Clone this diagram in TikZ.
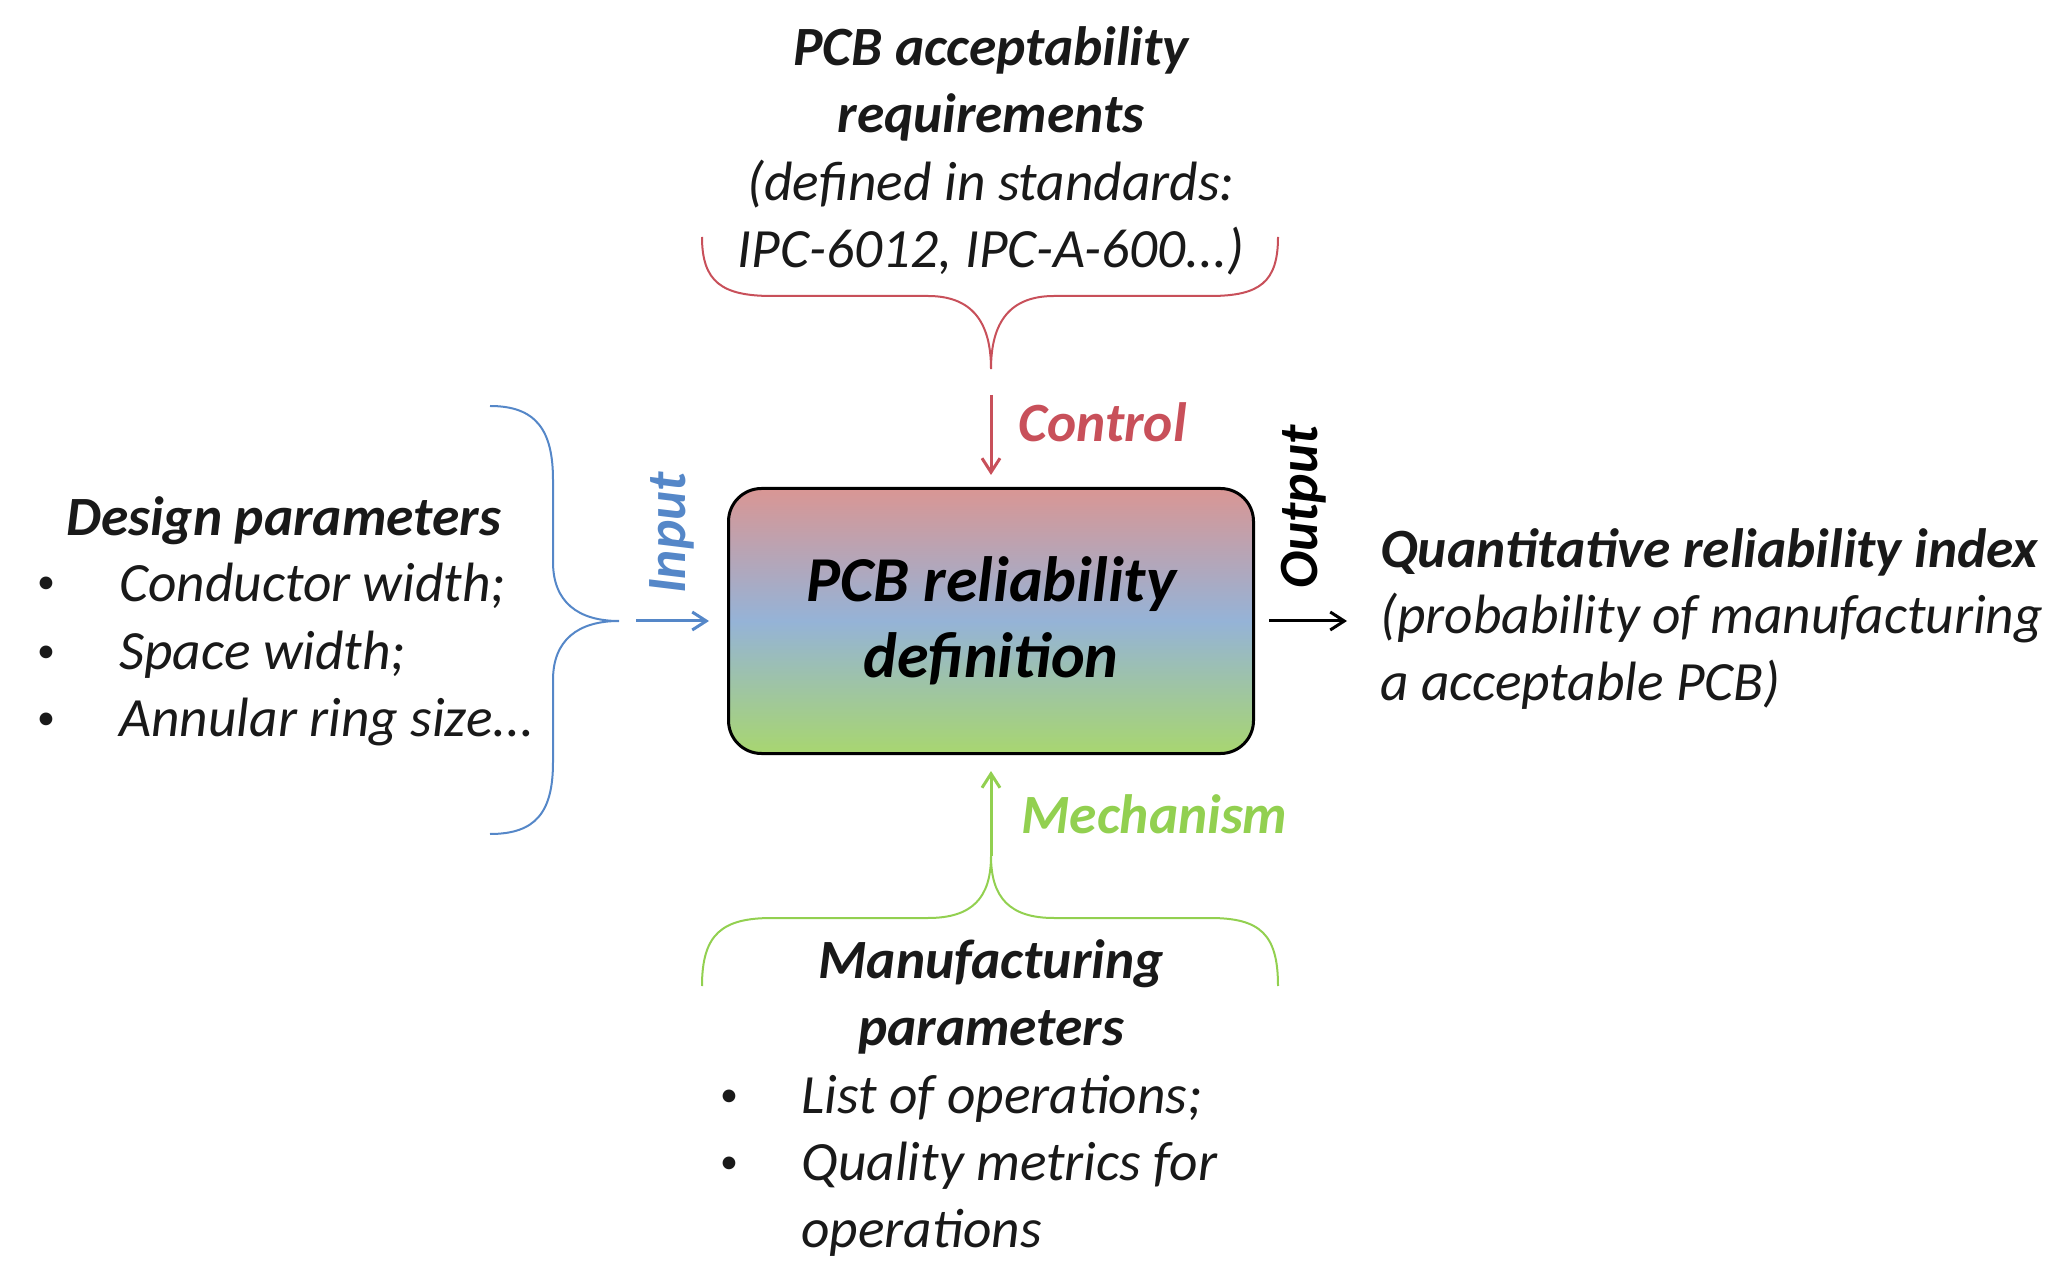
\documentclass[tikz,border=0pt]{standalone}
\usepackage{fontspec}
\setmainfont{Carlito}
\usetikzlibrary{arrows.meta}
\definecolor{cred}{RGB}{200,80,90}
\definecolor{cblue}{RGB}{85,135,200}
\definecolor{cgreen}{RGB}{146,208,80}
\definecolor{tcol}{RGB}{25,25,25}
\definecolor{boxtop}{RGB}{217,150,148}
\definecolor{boxmid}{RGB}{149,179,215}
\definecolor{boxbot}{RGB}{168,214,112}
\tikzset{
  txt/.style={font=\fontsize{27.7}{33.5}\selectfont\itshape, text=tcol, inner sep=0pt},
  ttl/.style={font=\fontsize{27.7}{33.5}\selectfont\bfseries\itshape, text=tcol, inner sep=0pt},
  bul/.style={font=\fontsize{18}{20}\selectfont, text=tcol, inner sep=0pt},
  brace/.style={line width=1pt},
  arr/.style={line width=1.5pt, -{Straight Barb[length=7pt,width=9pt,line width=1.5pt]}},
}
\begin{document}
\begin{tikzpicture}[x=0.5pt,y=-0.5pt]
\useasboundingbox (0,0) rectangle (2066,1277);
% central box
\node[draw=black, line width=1.5pt, rounded corners=16.5pt,
      minimum width=262.5pt, minimum height=132.5pt,
      top color=boxtop, bottom color=boxbot, middle color=boxmid,
      align=center, text=black,
      font=\fontsize{32}{38}\selectfont\bfseries\itshape] (box) at (991,621)
      {PCB reliability\\definition};
% top block
\node[ttl, align=center] (toptitle) at (991,84) {PCB acceptability\\requirements};
\node[txt, align=center] (topsub) at (991,218) {(defined in standards:\\IPC-6012, IPC-A-600...)};
\draw[brace, cred] (702,237) .. controls (702,282) and (722,296) .. (772,296)
   -- (928,296) .. controls (972,296) and (991,322) .. (991,369) coordinate (toptip)
   .. controls (991,322) and (1010,296) .. (1054,296) -- (1210,296)
   .. controls (1260,296) and (1278,282) .. (1278,237);
\coordinate (ctl) at (991,395);
\draw[arr, cred, shorten >=6pt] (ctl) -- (box.north);
\node[ttl, text=cred, anchor=west] (ctltxt) at (1018,422) {Control};
% left block
\node[ttl, anchor=west] (designt) at (66,521) {Design parameters};
\node[bul] (b1) at (46,585) {•};
\node[bul] (b2) at (46,654) {•};
\node[bul] (b3) at (46,721) {•};
\node[txt, anchor=west] (d1) at (119,586) {Conductor width;};
\node[txt, anchor=west] (d2) at (119,655) {Space width;};
\node[txt, anchor=west] (d3) at (119,722) {Annular ring size...};
\draw[brace, cblue] (490,406) .. controls (536,406) and (553,430) .. (553,480)
   -- (553,562) .. controls (553,602) and (578,621) .. (619,621) coordinate (lefttip)
   .. controls (578,621) and (553,640) .. (553,680) -- (553,762)
   .. controls (553,812) and (536,834) .. (490,834);
\coordinate (inp) at (636,621);
\draw[arr, cblue, shorten >=9pt] (inp) -- (box.west);
\node[ttl, text=cblue, rotate=90] (inptxt) at (672,533) {Input};
% right block
\coordinate (outp) at (1347,621);
\draw[arr, black, shorten <=7pt] (box.east) -- (outp);
\node[ttl, text=black, rotate=90] (outtxt) at (1304,507) {Output};
\node[ttl, anchor=west] (r1) at (1380,552) {Quantitative reliability index};
\node[txt, anchor=west] (r2) at (1380,618) {(probability of manufacturing};
\node[txt, anchor=west] (r3) at (1380,685) {a acceptable PCB)};
% bottom block
\draw[brace, cgreen] (702,986) .. controls (702,934) and (722,918) .. (772,918)
   -- (928,918) .. controls (972,918) and (991,898) .. (991,856) coordinate (bottip)
   .. controls (991,898) and (1010,918) .. (1054,918) -- (1210,918)
   .. controls (1260,918) and (1278,934) .. (1278,986);
\draw[arr, cgreen, shorten >=8pt] (bottip) -- (box.south);
\node[ttl, text=cgreen, anchor=west] (mechtxt) at (1021,814) {Mechanism};
\node[ttl, align=center] (mant) at (991,997) {Manufacturing\\parameters};
\node[bul] (b4) at (729,1098) {•};
\node[bul] (b5) at (729,1165) {•};
\node[txt, anchor=west] (m1) at (801,1099) {List of operations;};
\node[txt, anchor=west] (m2) at (801,1166) {Quality metrics for};
\node[txt, anchor=west] (m3) at (801,1233) {operations};
\end{tikzpicture}
\end{document}
